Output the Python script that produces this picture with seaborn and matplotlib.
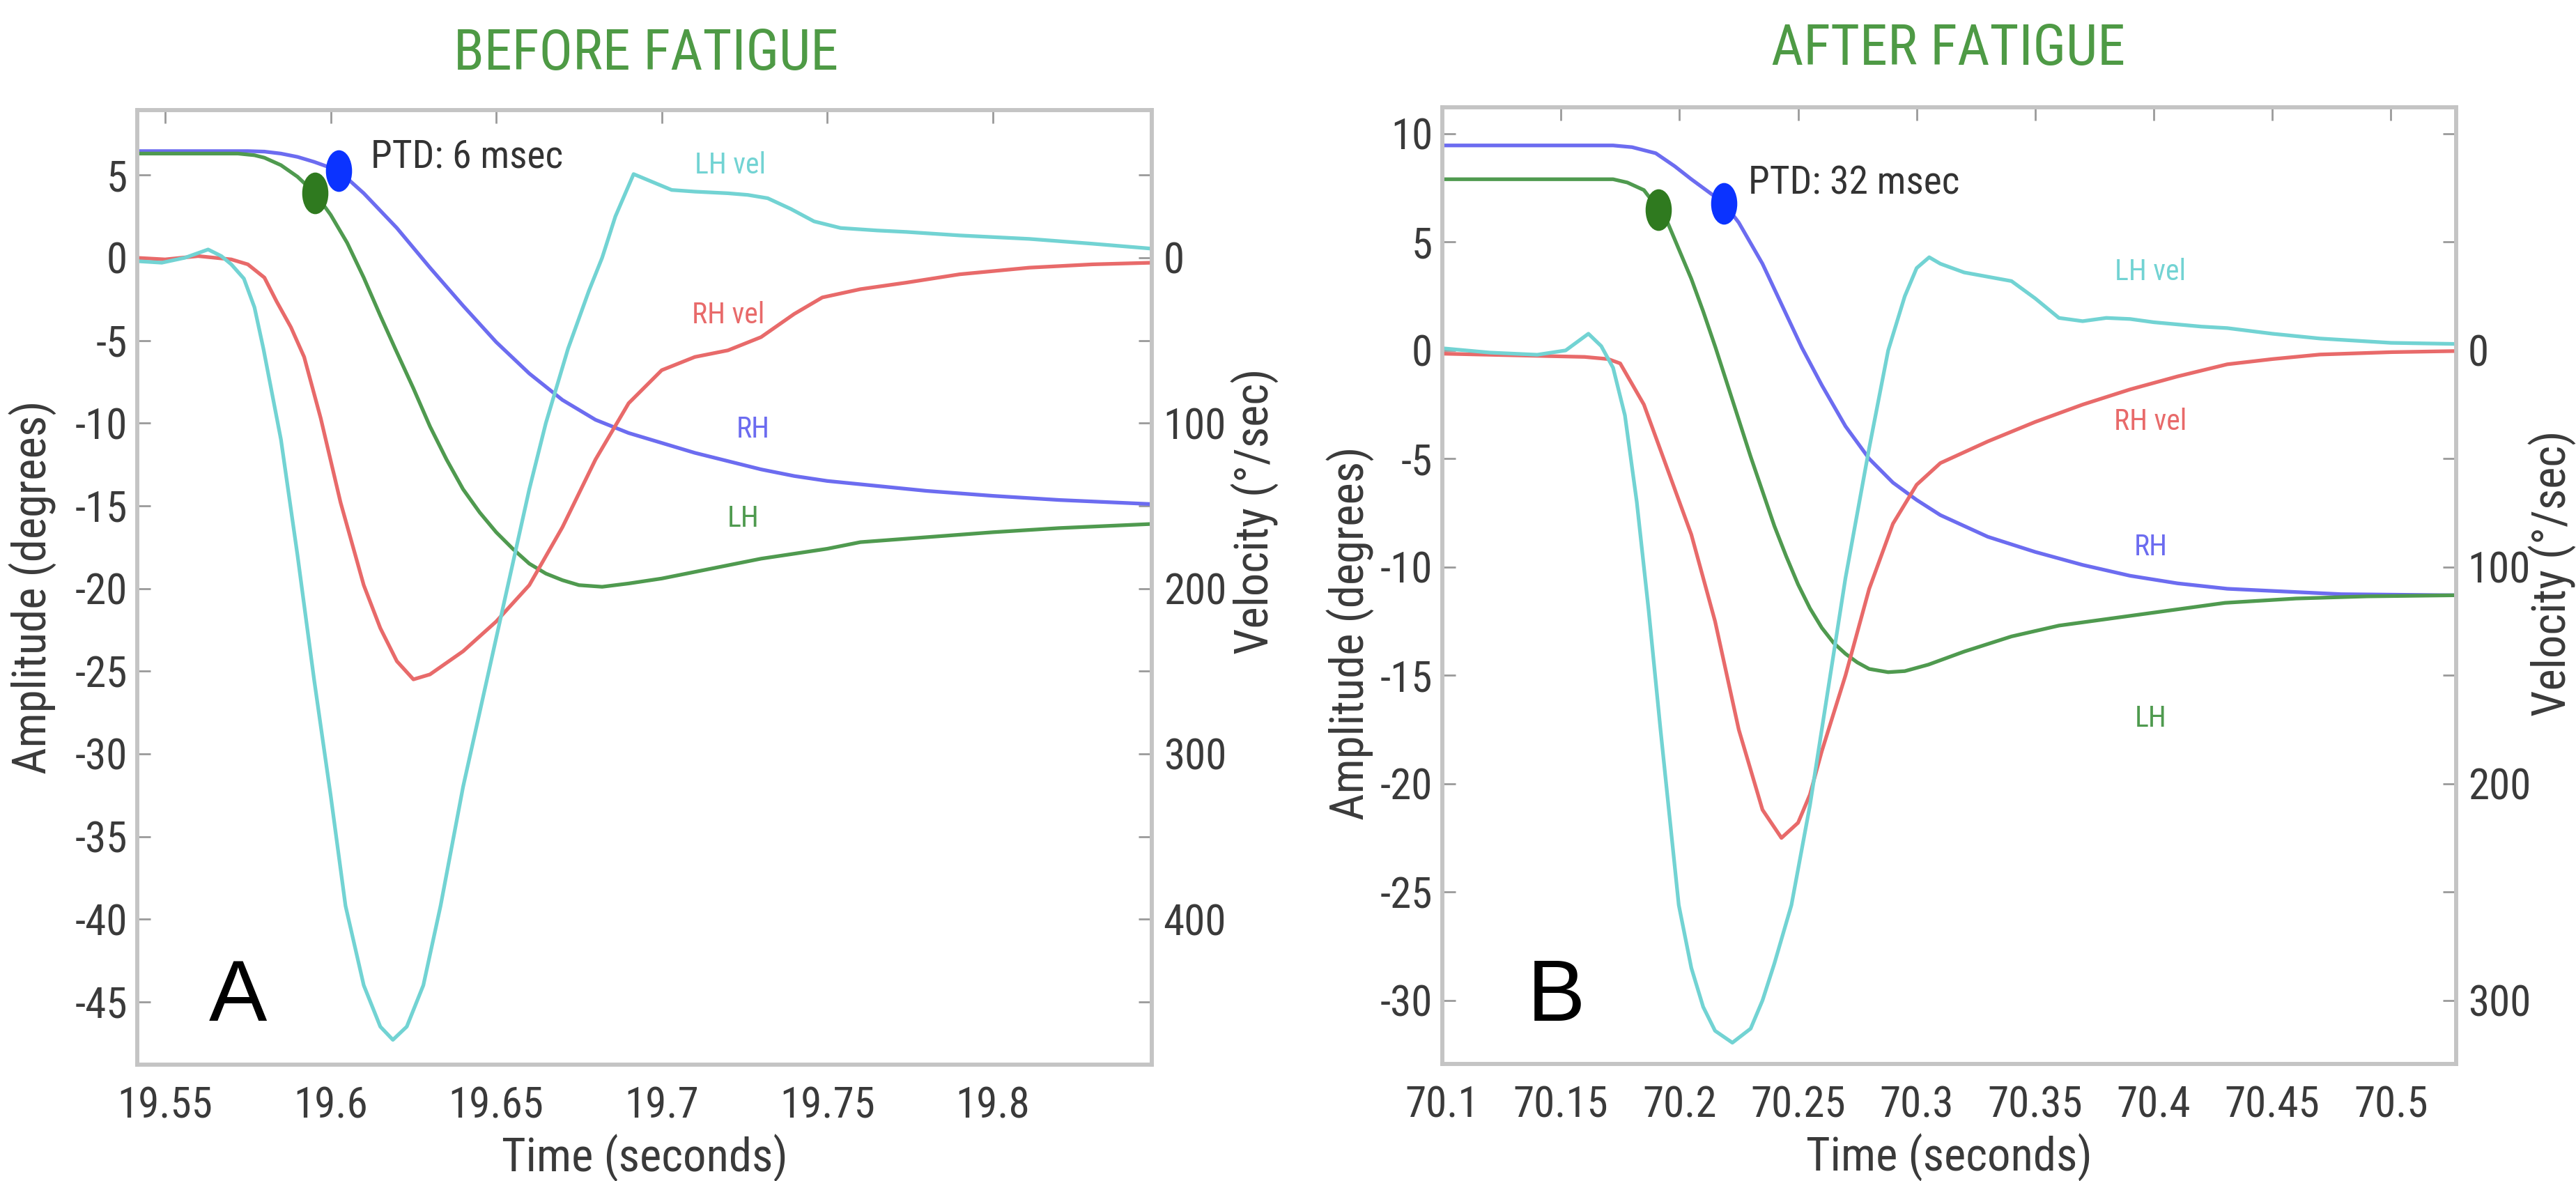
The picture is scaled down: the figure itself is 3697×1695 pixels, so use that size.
import numpy as np
import matplotlib
matplotlib.use("Agg")
import matplotlib.pyplot as plt
import seaborn as sns
from matplotlib.path import Path
from matplotlib import font_manager as fm

# ---------------- panel A : before fatigue ----------------
a_rh_t = [19.541, 19.575, 19.58, 19.585, 19.59, 19.595, 19.6024, 19.61, 19.62, 19.63, 19.64, 19.65, 19.66,
          19.67, 19.68, 19.69, 19.70, 19.71, 19.72, 19.73, 19.74, 19.75, 19.76, 19.78, 19.80, 19.82, 19.848]
a_rh = [6.45, 6.45, 6.42, 6.3, 6.1, 5.8, 5.27, 3.9, 1.8, -0.6, -2.9, -5.1, -7.0,
        -8.6, -9.8, -10.6, -11.2, -11.8, -12.3, -12.8, -13.2, -13.5, -13.7, -14.1, -14.4, -14.65, -14.9]

a_lh_t = [19.541, 19.572, 19.577, 19.58, 19.585, 19.59, 19.5953, 19.60, 19.605, 19.61, 19.615, 19.6195,
          19.625, 19.63, 19.635, 19.64, 19.645, 19.65, 19.655, 19.66, 19.665, 19.67, 19.675, 19.682,
          19.69, 19.70, 19.71, 19.72, 19.73, 19.74, 19.75, 19.76, 19.78, 19.80, 19.82, 19.848]
a_lh = [6.3, 6.3, 6.2, 6.05, 5.6, 4.9, 3.9, 2.6, 0.9, -1.2, -3.5, -5.5,
        -7.9, -10.2, -12.2, -14.0, -15.4, -16.6, -17.6, -18.5, -19.1, -19.5, -19.8, -19.9,
        -19.7, -19.4, -19.0, -18.6, -18.2, -17.9, -17.6, -17.2, -16.9, -16.6, -16.35, -16.1]

a_rhv_t = [19.541, 19.55, 19.56, 19.57, 19.575, 19.58, 19.5837, 19.588, 19.592, 19.597, 19.603, 19.61,
           19.615, 19.62, 19.625, 19.63, 19.64, 19.65, 19.66, 19.67, 19.68, 19.69, 19.70, 19.71, 19.72,
           19.73, 19.74, 19.7485, 19.76, 19.774, 19.79, 19.811, 19.83, 19.848]
a_rhv = [0, 1, -1, 1, 4, 12, 26.5, 42, 60, 97, 148, 198,
         224, 244, 255, 252, 238, 220, 198, 163, 122, 88, 68, 60, 56,
         48, 34, 24, 19, 15, 10, 6, 4, 3]

a_lhv_t = [19.541, 19.549, 19.556, 19.563, 19.567, 19.570, 19.5738, 19.577, 19.5797, 19.585, 19.59, 19.595,
           19.60, 19.6045, 19.61, 19.615, 19.6188, 19.623, 19.628, 19.6332, 19.64, 19.645, 19.65, 19.655,
           19.66, 19.665, 19.6717, 19.678, 19.682, 19.686, 19.6915, 19.697, 19.703, 19.71, 19.72, 19.726,
           19.732, 19.739, 19.746, 19.754, 19.765, 19.774, 19.79, 19.811, 19.83, 19.848]
a_lhv = [2, 3, 0, -5, -1, 4, 12.6, 30, 55, 110, 180, 255,
         325, 392, 440, 465, 473, 465, 440, 392, 320, 275, 230, 185,
         140, 100, 55, 20, 0, -25, -50.6, -46, -41, -40, -39, -38,
         -36, -29.5, -22, -18, -16.5, -15.6, -13.5, -11.4, -8.5, -5.5]

a_marks = {"LH": (19.5953, 3.9), "RH": (19.6024, 5.27)}
a_xticks = [19.55, 19.6, 19.65, 19.7, 19.75, 19.8]
a_yticks = [-45, -40, -35, -30, -25, -20, -15, -10, -5, 0, 5]
a_vticks = [0, 100, 200, 300, 400]

# ---------------- panel B : after fatigue ----------------
b_rh_t = [70.1, 70.172, 70.18, 70.19, 70.198, 70.205, 70.2188, 70.225, 70.235, 70.2516, 70.26, 70.27,
          70.28, 70.29, 70.30, 70.31, 70.33, 70.35, 70.37, 70.39, 70.41, 70.431, 70.45, 70.479, 70.527]
b_rh = [9.46, 9.46, 9.38, 9.1, 8.5, 7.9, 6.79, 5.9, 4.0, 0.13, -1.6, -3.5,
        -5.0, -6.1, -6.9, -7.6, -8.6, -9.3, -9.9, -10.4, -10.75, -11.0, -11.1, -11.25, -11.3]

b_lh_t = [70.1, 70.172, 70.178, 70.185, 70.19125, 70.195, 70.2, 70.205, 70.21, 70.2152, 70.22, 70.225,
          70.23, 70.235, 70.24, 70.245, 70.25, 70.255, 70.26, 70.265, 70.27, 70.275, 70.28, 70.288,
          70.295, 70.305, 70.32, 70.34, 70.36, 70.38, 70.40, 70.43, 70.46, 70.49, 70.527]
b_lh = [7.9, 7.9, 7.75, 7.4, 6.5, 5.9, 4.6, 3.3, 1.8, 0.13, -1.5, -3.2,
        -4.9, -6.5, -8.1, -9.5, -10.8, -11.9, -12.8, -13.5, -14.0, -14.4, -14.7, -14.85,
        -14.8, -14.5, -13.9, -13.2, -12.7, -12.4, -12.1, -11.65, -11.45, -11.35, -11.3]

b_rhv_t = [70.1, 70.12, 70.14, 70.16, 70.17, 70.175, 70.185, 70.195, 70.205, 70.215, 70.225, 70.235,
           70.243, 70.25, 70.255, 70.26, 70.27, 70.28, 70.29, 70.30, 70.31, 70.33, 70.35, 70.37,
           70.39, 70.41, 70.431, 70.45, 70.47, 70.50, 70.527]
b_rhv = [1.5, 2, 2.5, 3, 4, 6, 25, 55, 85, 125, 175, 212,
         225, 218, 205, 185, 150, 110, 80, 62, 52, 42, 33, 25,
         18, 12, 6.4, 4, 1.9, 0.8, 0.3]

b_lhv_t = [70.1, 70.12, 70.14, 70.152, 70.1616, 70.167, 70.172, 70.177, 70.182, 70.187, 70.192, 70.1997,
           70.205, 70.21, 70.215, 70.2223, 70.23, 70.235, 70.24, 70.2472, 70.255, 70.26, 70.27, 70.28,
           70.288, 70.295, 70.30, 70.3053, 70.31, 70.32, 70.33, 70.34, 70.35, 70.36, 70.37, 70.38,
           70.39, 70.40, 70.42, 70.431, 70.45, 70.47, 70.50, 70.527]
b_lhv = [-1, 1, 2, 0, -7.7, -2, 8, 30, 70, 120, 175, 256,
         285, 303, 314, 319.5, 313, 300, 283, 256, 210, 175, 105, 45,
         0, -25, -38, -43, -40, -36, -34, -32, -24, -15, -13.5, -15,
         -14.5, -13, -11, -10.3, -7.7, -5.5, -3.5, -3]

b_marks = {"LH": (70.1911, 6.5), "RH": (70.2188, 6.79)}
b_xticks = [70.1, 70.15, 70.2, 70.25, 70.3, 70.35, 70.4, 70.45, 70.5]
b_yticks = [-30, -25, -20, -15, -10, -5, 0, 5, 10]
b_vticks = [0, 100, 200, 300]

# ---------------- style ----------------
sns.set_theme(style="white")
plt.rcParams["font.family"] = ["Liberation Sans", "DejaVu Sans"]
plt.rcParams["axes.unicode_minus"] = False


def find_narrow():
    # look for a condensed sans face among the installed fonts
    prefs = ["liberationsansnarrow", "robotocondensed", "notosanscondensed", "opensanscondensed",
             "dejavusanscondensed", "narrow", "condensed"]
    bad = ("bold", "italic", "oblique", "light", "thin", "black", "semi", "extra", "medium", "mono", "serif")
    faces = []
    for f in fm.fontManager.ttflist:
        key = f.fname.lower().replace("-", "").replace("_", "").replace(" ", "")
        base = key.rsplit("/", 1)[-1]
        if any(b in base for b in bad):
            continue
        for rank, p in enumerate(prefs):
            if p in base:
                faces.append((rank, f.fname))
                break
    if faces:
        faces.sort()
        return faces[0][1], 1.0
    return None, 0.88


NARROW_FILE, SHRINK = find_narrow()


def fprop(size):
    if NARROW_FILE:
        fp = fm.FontProperties(fname=NARROW_FILE)
    else:
        fp = fm.FontProperties(family=["Liberation Sans", "DejaVu Sans"])
    fp.set_size(size * SHRINK)
    return fp


C_LH, C_RH = "#4f9a4f", "#6c6cf0"
C_LHV, C_RHV = "#72d3d3", "#e86a6a"
TXT = "#3a3a3a"
SPINE = "#c4c4c4"
LW = 3.8

ellipse = Path(Path.unit_circle().vertices * [0.62, 1.0], Path.unit_circle().codes)

fig = plt.figure(figsize=(36.98, 16.95), dpi=100)


def panel(rect, d, title, title_xy, letter, letter_xy, ptd, ptd_xy, labels, ylab_y, vlab_x, vlab_y, ylab_x):
    ax = fig.add_axes(rect)
    ax2 = ax.twinx()
    sns.lineplot(x=d["rh_t"], y=d["rh"], ax=ax, color=C_RH, linewidth=LW, sort=False, estimator=None)
    sns.lineplot(x=d["lh_t"], y=d["lh"], ax=ax, color=C_LH, linewidth=LW, sort=False, estimator=None)
    sns.lineplot(x=d["rhv_t"], y=d["rhv"], ax=ax2, color=C_RHV, linewidth=LW, sort=False, estimator=None)
    sns.lineplot(x=d["lhv_t"], y=d["lhv"], ax=ax2, color=C_LHV, linewidth=LW, sort=False, estimator=None)

    ax.plot(*d["marks"]["LH"], marker=ellipse, markersize=42, color="#2f7a1f", zorder=5)
    ax.plot(*d["marks"]["RH"], marker=ellipse, markersize=42, color="#0b33ff", zorder=5)

    ax.set_xlim(d["xlim"])
    ax.set_ylim(d["ylim"])
    ax2.set_ylim(-10 * d["ylim"][0], -10 * d["ylim"][1])
    ax.set_xticks(d["xticks"])
    ax.set_xticklabels([f"{v:g}" for v in d["xticks"]])
    ax.set_yticks(d["yticks"])
    ax2.set_yticks(d["vticks"])

    ax.tick_params(direction="in", length=14, width=2, color="#9a9a9a", top=True, right=True,
                   labelcolor=TXT, pad=10)
    ax.tick_params(axis="x", pad=22)
    ax2.tick_params(direction="in", length=0, labelcolor=TXT, pad=12)
    for lab in ax.get_xticklabels() + ax.get_yticklabels() + ax2.get_yticklabels():
        lab.set_fontproperties(fprop(44))
    for a in (ax, ax2):
        for s in a.spines.values():
            s.set_color(SPINE)
            s.set_linewidth(4)

    ax.set_xlabel("Time (seconds)", color=TXT, fontproperties=fprop(48))
    ax.xaxis.set_label_coords(0.5, -0.098)
    ax.xaxis.label.set_va("center")
    ax.set_ylabel("Amplitude (degrees)", color=TXT, fontproperties=fprop(48))
    ax.yaxis.set_label_coords(ylab_x, ylab_y)
    ax.yaxis.label.set_va("center")
    ax2.set_ylabel("Velocity (°/sec)", color=TXT, fontproperties=fprop(48))
    ax2.yaxis.set_label_coords(vlab_x, vlab_y)
    ax2.yaxis.label.set_va("center")

    fig.text(title_xy[0], title_xy[1], title, color="#4e9a45", ha="center", va="center",
             fontproperties=fprop(58))
    ax.text(letter_xy[0], letter_xy[1], letter, fontsize=90, color="black", ha="center", va="center",
            family=["Liberation Sans", "DejaVu Sans"])
    ax.text(ptd_xy[0], ptd_xy[1], ptd, color="#333333", ha="left", va="center", fontproperties=fprop(40))
    for txt, (x, y), c in labels:
        ax.text(x, y, txt, color=c, ha="center", va="center", fontproperties=fprop(30))
    return ax


panel([0.05327, 0.09853, 0.39373, 0.80825],
      dict(rh_t=a_rh_t, rh=a_rh, lh_t=a_lh_t, lh=a_lh, rhv_t=a_rhv_t, rhv=a_rhv, lhv_t=a_lhv_t, lhv=a_lhv,
           marks=a_marks, xlim=(19.5416, 19.848), ylim=(-48.8, 8.93),
           xticks=a_xticks, yticks=a_yticks, vticks=a_vticks),
      "BEFORE FATIGUE", (0.2507, 0.954), "A", (19.5719, -44.8), "PTD: 6 msec", (19.612, 6.1),
      [("LH vel", (19.7207, 5.6), C_LHV), ("RH vel", (19.72, -3.5), C_RHV),
       ("RH", (19.7276, -10.4), C_RH), ("LH", (19.7246, -15.8), C_LH)],
      0.5, 1.102, 0.58, -0.103)

panel([0.55976, 0.09912, 0.39346, 0.81002],
      dict(rh_t=b_rh_t, rh=b_rh, lh_t=b_lh_t, lh=b_lh, rhv_t=b_rhv_t, rhv=b_rhv, lhv_t=b_lhv_t, lhv=b_lhv,
           marks=b_marks, xlim=(70.1, 70.5275), ylim=(-32.93, 11.22),
           xticks=b_xticks, yticks=b_yticks, vticks=b_vticks),
      "AFTER FATIGUE", (0.7561, 0.958), "B", (70.148, -29.9), "PTD: 32 msec", (70.229, 7.7),
      [("LH vel", (70.3986, 3.6), C_LHV), ("RH vel", (70.3986, -3.3), C_RHV),
       ("RH", (70.3986, -9.1), C_RH), ("LH", (70.3986, -17.0), C_LH)],
      0.45, 1.095, 0.513, -0.0906)

fig.savefig("out.png", dpi=100, facecolor="white")
